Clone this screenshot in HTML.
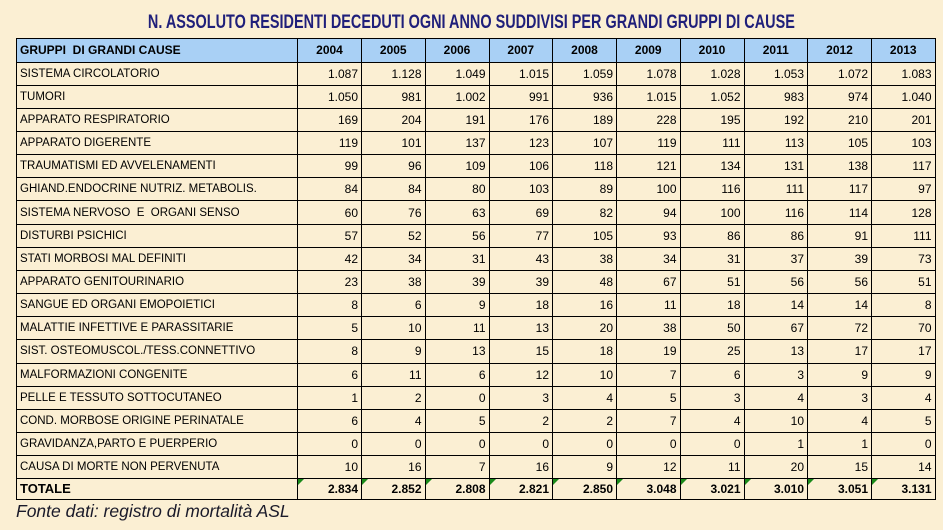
<!DOCTYPE html>
<html><head><meta charset="utf-8"><style>
html,body{margin:0;padding:0;}
body{width:943px;height:530px;background:#fbefd3;position:relative;overflow:hidden;font-family:"Liberation Sans",Arial,sans-serif;}
.title{position:absolute;left:0;width:943px;top:12px;text-align:center;font-size:19px;font-weight:bold;color:#1f1f7a;transform:scaleX(0.76);transform-origin:471px 0;}
table{position:absolute;left:16px;top:38px;border-collapse:collapse;table-layout:fixed;}
tr{height:23.17px;}
td{border:1.5px solid #000;font-size:11.5px;color:#000;padding:0 3px;white-space:nowrap;overflow:hidden;position:relative;vertical-align:middle;line-height:14px;}
td.n{text-align:right;font-size:12px;}
tr.h{height:23.5px;}
tr.h td{background:#a9d0f5;font-weight:bold;font-size:12px;}
tr.h td.n{text-align:center;}
tr.t{height:20.5px;}
tr.t td{font-weight:bold;font-size:13px;}
tr.t td.n{font-size:12px;}
tr.t td.n::before{content:"";position:absolute;left:0;top:0;border-top:6px solid #1a8a1a;border-right:6px solid transparent;}
.foot{position:absolute;left:16px;top:501px;font-style:italic;font-size:17.5px;color:#1a1a2a;}
</style></head><body>
<div class="title">N. ASSOLUTO RESIDENTI DECEDUTI OGNI ANNO SUDDIVISI PER GRANDI GRUPPI DI CAUSE</div>
<table>
<colgroup><col style="width:281px"><col style="width:64px"><col style="width:63.5px"><col style="width:64px"><col style="width:63.5px"><col style="width:64px"><col style="width:63.5px"><col style="width:64px"><col style="width:63.5px"><col style="width:64px"><col style="width:63.5px"></colgroup>
<tr class="h"><td>GRUPPI&nbsp; DI GRANDI CAUSE</td><td class="n">2004</td><td class="n">2005</td><td class="n">2006</td><td class="n">2007</td><td class="n">2008</td><td class="n">2009</td><td class="n">2010</td><td class="n">2011</td><td class="n">2012</td><td class="n">2013</td></tr>
<tr><td>SISTEMA CIRCOLATORIO</td><td class="n">1.087</td><td class="n">1.128</td><td class="n">1.049</td><td class="n">1.015</td><td class="n">1.059</td><td class="n">1.078</td><td class="n">1.028</td><td class="n">1.053</td><td class="n">1.072</td><td class="n">1.083</td></tr>
<tr><td>TUMORI</td><td class="n">1.050</td><td class="n">981</td><td class="n">1.002</td><td class="n">991</td><td class="n">936</td><td class="n">1.015</td><td class="n">1.052</td><td class="n">983</td><td class="n">974</td><td class="n">1.040</td></tr>
<tr><td>APPARATO RESPIRATORIO</td><td class="n">169</td><td class="n">204</td><td class="n">191</td><td class="n">176</td><td class="n">189</td><td class="n">228</td><td class="n">195</td><td class="n">192</td><td class="n">210</td><td class="n">201</td></tr>
<tr><td>APPARATO DIGERENTE</td><td class="n">119</td><td class="n">101</td><td class="n">137</td><td class="n">123</td><td class="n">107</td><td class="n">119</td><td class="n">111</td><td class="n">113</td><td class="n">105</td><td class="n">103</td></tr>
<tr><td>TRAUMATISMI ED AVVELENAMENTI</td><td class="n">99</td><td class="n">96</td><td class="n">109</td><td class="n">106</td><td class="n">118</td><td class="n">121</td><td class="n">134</td><td class="n">131</td><td class="n">138</td><td class="n">117</td></tr>
<tr><td>GHIAND.ENDOCRINE NUTRIZ. METABOLIS.</td><td class="n">84</td><td class="n">84</td><td class="n">80</td><td class="n">103</td><td class="n">89</td><td class="n">100</td><td class="n">116</td><td class="n">111</td><td class="n">117</td><td class="n">97</td></tr>
<tr><td>SISTEMA NERVOSO&nbsp; E&nbsp; ORGANI SENSO</td><td class="n">60</td><td class="n">76</td><td class="n">63</td><td class="n">69</td><td class="n">82</td><td class="n">94</td><td class="n">100</td><td class="n">116</td><td class="n">114</td><td class="n">128</td></tr>
<tr><td>DISTURBI PSICHICI</td><td class="n">57</td><td class="n">52</td><td class="n">56</td><td class="n">77</td><td class="n">105</td><td class="n">93</td><td class="n">86</td><td class="n">86</td><td class="n">91</td><td class="n">111</td></tr>
<tr><td>STATI MORBOSI MAL DEFINITI</td><td class="n">42</td><td class="n">34</td><td class="n">31</td><td class="n">43</td><td class="n">38</td><td class="n">34</td><td class="n">31</td><td class="n">37</td><td class="n">39</td><td class="n">73</td></tr>
<tr><td>APPARATO GENITOURINARIO</td><td class="n">23</td><td class="n">38</td><td class="n">39</td><td class="n">39</td><td class="n">48</td><td class="n">67</td><td class="n">51</td><td class="n">56</td><td class="n">56</td><td class="n">51</td></tr>
<tr><td>SANGUE ED ORGANI EMOPOIETICI</td><td class="n">8</td><td class="n">6</td><td class="n">9</td><td class="n">18</td><td class="n">16</td><td class="n">11</td><td class="n">18</td><td class="n">14</td><td class="n">14</td><td class="n">8</td></tr>
<tr><td>MALATTIE INFETTIVE E PARASSITARIE</td><td class="n">5</td><td class="n">10</td><td class="n">11</td><td class="n">13</td><td class="n">20</td><td class="n">38</td><td class="n">50</td><td class="n">67</td><td class="n">72</td><td class="n">70</td></tr>
<tr><td>SIST. OSTEOMUSCOL./TESS.CONNETTIVO</td><td class="n">8</td><td class="n">9</td><td class="n">13</td><td class="n">15</td><td class="n">18</td><td class="n">19</td><td class="n">25</td><td class="n">13</td><td class="n">17</td><td class="n">17</td></tr>
<tr><td>MALFORMAZIONI CONGENITE</td><td class="n">6</td><td class="n">11</td><td class="n">6</td><td class="n">12</td><td class="n">10</td><td class="n">7</td><td class="n">6</td><td class="n">3</td><td class="n">9</td><td class="n">9</td></tr>
<tr><td>PELLE E TESSUTO SOTTOCUTANEO</td><td class="n">1</td><td class="n">2</td><td class="n">0</td><td class="n">3</td><td class="n">4</td><td class="n">5</td><td class="n">3</td><td class="n">4</td><td class="n">3</td><td class="n">4</td></tr>
<tr><td>COND. MORBOSE ORIGINE PERINATALE</td><td class="n">6</td><td class="n">4</td><td class="n">5</td><td class="n">2</td><td class="n">2</td><td class="n">7</td><td class="n">4</td><td class="n">10</td><td class="n">4</td><td class="n">5</td></tr>
<tr><td>GRAVIDANZA,PARTO E PUERPERIO</td><td class="n">0</td><td class="n">0</td><td class="n">0</td><td class="n">0</td><td class="n">0</td><td class="n">0</td><td class="n">0</td><td class="n">1</td><td class="n">1</td><td class="n">0</td></tr>
<tr><td>CAUSA DI MORTE NON PERVENUTA</td><td class="n">10</td><td class="n">16</td><td class="n">7</td><td class="n">16</td><td class="n">9</td><td class="n">12</td><td class="n">11</td><td class="n">20</td><td class="n">15</td><td class="n">14</td></tr>
<tr class="t"><td>TOTALE</td><td class="n">2.834</td><td class="n">2.852</td><td class="n">2.808</td><td class="n">2.821</td><td class="n">2.850</td><td class="n">3.048</td><td class="n">3.021</td><td class="n">3.010</td><td class="n">3.051</td><td class="n">3.131</td></tr>
</table>
<div class="foot">Fonte dati: registro di mortalità ASL</div>
</body></html>
